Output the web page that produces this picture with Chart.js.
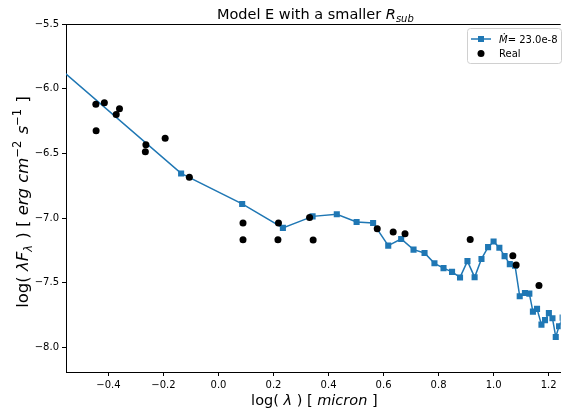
<!DOCTYPE html>
<html>
<head>
<meta charset="utf-8">
<script src="https://cdn.jsdelivr.net/npm/chart.js@4.4.0/dist/chart.umd.min.js"></script>
<style>
html,body{margin:0;padding:0;background:#fff;}
#wrap{width:565px;height:412px;position:relative;}
</style>
</head>
<body>
<div id="wrap"><canvas id="c" width="565" height="412"></canvas></div>
<script>
// ---- data ----
const modelLabel = '23.0e-8';
const modelX = [-0.62, -0.136, 0.086, 0.234, 0.342, 0.430, 0.502, 0.562, 0.617, 0.664, 0.709, 0.749, 0.785, 0.818, 0.849, 0.878, 0.905, 0.931, 0.956, 0.980, 1.000, 1.021, 1.040, 1.059, 1.078, 1.095, 1.114, 1.130, 1.143, 1.158, 1.174, 1.187, 1.201, 1.214, 1.226, 1.238, 1.251];
const modelY = [-5.766, -6.655, -6.891, -7.076, -6.987, -6.971, -7.030, -7.038, -7.213, -7.162, -7.244, -7.270, -7.350, -7.387, -7.416, -7.459, -7.333, -7.457, -7.316, -7.225, -7.181, -7.229, -7.294, -7.356, -7.368, -7.605, -7.579, -7.584, -7.723, -7.702, -7.824, -7.789, -7.735, -7.774, -7.919, -7.837, -7.770];
const realX = [-0.446, -0.445, -0.415, -0.372, -0.360, -0.264, -0.266, -0.194, -0.106, 0.089, 0.089, 0.218, 0.216, 0.331, 0.344, 0.577, 0.635, 0.678, 0.915, 1.070, 1.082, 1.165];
const realY = [-6.121, -6.325, -6.108, -6.199, -6.155, -6.433, -6.487, -6.384, -6.685, -7.038, -7.167, -7.038, -7.167, -6.995, -7.169, -7.082, -7.107, -7.121, -7.165, -7.291, -7.362, -7.522];
const xTicks = [-0.4, -0.2, 0.0, 0.2, 0.4, 0.6, 0.8, 1.0, 1.2];
const yTicks = [-8.0, -7.5, -7.0, -6.5, -6.0, -5.5];
const xRange = [-0.5545, 1.244];
const yRange = [-8.19, -5.5];

const FONT = 'DejaVu Sans';
const BLUE = '#1f77b4';

function fmt(v) {
  const s = Math.abs(v).toFixed(1);
  return (v < -1e-9 ? '\u2212' : '') + s;
}

function fontStr(p) {
  return (p.italic ? 'italic ' : '') + p.size + 'px "' + FONT + '"';
}
function richWidth(ctx, parts) {
  let w = 0;
  parts.forEach(p => { ctx.font = fontStr(p); p.w = ctx.measureText(p.t).width + (p.gap || 0); w += p.w; });
  return w;
}
function drawRich(ctx, parts, x, y, align) {
  const w = richWidth(ctx, parts);
  let cx = align === 'center' ? x - w / 2 : x;
  ctx.textAlign = 'left';
  ctx.textBaseline = 'alphabetic';
  ctx.fillStyle = '#000';
  parts.forEach(p => {
    ctx.font = fontStr(p);
    ctx.fillText(p.t, cx, y + (p.dy || 0));
    cx += p.w;
  });
}

const decor = {
  id: 'decor',
  afterDraw(chart) {
    const ctx = chart.ctx;
    const a = chart.chartArea;
    ctx.save();
    // top spine
    ctx.strokeStyle = '#000';
    ctx.lineWidth = 1;
    ctx.beginPath();
    ctx.moveTo(a.left, a.top + 0.5);
    ctx.lineTo(a.right, a.top + 0.5);
    ctx.stroke();

    const cx = (a.left + a.right) / 2;
    // title
    drawRich(ctx, [
      {t: 'Model E with a smaller ', size: 14.5},
      {t: 'R', size: 14.5, italic: true},
      {t: 'sub', size: 10, italic: true, dy: 3}
    ], cx + 2, 19, 'center');

    // x label
    drawRich(ctx, [
      {t: 'log( ', size: 14.5},
      {t: '\u03bb', size: 14.5, italic: true},
      {t: ' ) [ ', size: 14.5},
      {t: 'micron', size: 14.5, italic: true},
      {t: ' ]', size: 14.5}
    ], cx + 1, 405, 'center');

    // y label
    ctx.save();
    ctx.translate(28, 202);
    ctx.rotate(-Math.PI / 2);
    drawRich(ctx, [
      {t: 'log( ', size: 16.5},
      {t: '\u03bbF', size: 16.5, italic: true},
      {t: '\u03bb', size: 11.5, italic: true, dy: 3.5, gap: 1},
      {t: ' ) [ ', size: 16.5},
      {t: 'erg cm', size: 16.5, italic: true},
      {t: '\u22122', size: 11.5, dy: -7, gap: 1},
      {t: ' s', size: 16.5, italic: true},
      {t: '\u22121', size: 11.5, dy: -7, gap: 1},
      {t: ' ]', size: 16.5}
    ], 0, 0, 'center');
    ctx.restore();

    // legend
    const lx = 467.5, ly = 28.5, lw = 94, lh = 35;
    ctx.beginPath();
    if (ctx.roundRect) ctx.roundRect(lx, ly, lw, lh, 3); else ctx.rect(lx, ly, lw, lh);
    ctx.fillStyle = 'rgba(255,255,255,0.8)';
    ctx.fill();
    ctx.strokeStyle = '#d0d0d0';
    ctx.lineWidth = 1;
    ctx.stroke();

    ctx.strokeStyle = BLUE;
    ctx.lineWidth = 1.5;
    ctx.beginPath();
    ctx.moveTo(471, 39);
    ctx.lineTo(491, 39);
    ctx.stroke();
    ctx.fillStyle = BLUE;
    ctx.fillRect(478, 36, 6, 6);
    drawRich(ctx, [
      {t: '\u1e40', size: 10, italic: true},
      {t: '= ' + modelLabel, size: 10}
    ], 499, 43, 'left');

    ctx.fillStyle = '#000';
    ctx.beginPath();
    ctx.arc(481, 53.5, 3.5, 0, Math.PI * 2);
    ctx.fill();
    drawRich(ctx, [{t: 'Real', size: 10}], 499, 57, 'left');
    ctx.restore();
  }
};

const tickFont = {family: FONT, size: 10};

new Chart(document.getElementById('c'), {
  type: 'scatter',
  data: {
    datasets: [
      {
        label: 'Real',
        data: realX.map((x, i) => ({x: x, y: realY[i]})),
        showLine: false,
        pointStyle: 'circle',
        pointRadius: 3.5,
        pointBackgroundColor: '#000',
        pointBorderWidth: 0,
        order: 0
      },
      {
        label: 'M = ' + modelLabel,
        data: modelX.map((x, i) => ({x: x, y: modelY[i]})),
        showLine: true,
        borderColor: BLUE,
        backgroundColor: BLUE,
        borderWidth: 1.5,
        pointStyle: 'rect',
        pointRadius: 4.3,
        pointBackgroundColor: BLUE,
        pointBorderWidth: 0,
        tension: 0,
        order: 1
      }
    ]
  },
  options: {
    responsive: false,
    animation: false,
    devicePixelRatio: 1,
    layout: {padding: {top: 24, left: 0, right: 0, bottom: 0}},
    plugins: {
      legend: {display: false},
      title: {display: false},
      tooltip: {enabled: false}
    },
    scales: {
      x: {
        type: 'linear',
        min: xRange[0],
        max: xRange[1],
        afterBuildTicks: s => { s.ticks = xTicks.map(v => ({value: v})); },
        afterFit: s => { s.height = 40; s.paddingLeft = 0; s.paddingRight = 0; },
        ticks: {callback: v => fmt(v), color: '#000', font: tickFont, padding: 3, maxRotation: 0, autoSkip: false},
        grid: {drawOnChartArea: false, drawTicks: true, tickLength: 4, color: '#000', lineWidth: 1},
        border: {display: true, color: '#000', width: 1}
      },
      y: {
        type: 'linear',
        min: yRange[0],
        max: yRange[1],
        afterBuildTicks: s => { s.ticks = yTicks.map(v => ({value: v})); },
        afterFit: s => { s.width = 66; s.paddingTop = 0; s.paddingBottom = 0; },
        ticks: {callback: v => fmt(v), color: '#000', font: tickFont, padding: 3, autoSkip: false},
        grid: {drawOnChartArea: false, drawTicks: true, tickLength: 4, color: '#000', lineWidth: 1},
        border: {display: true, color: '#000', width: 1}
      }
    }
  },
  plugins: [decor]
});
</script>
</body>
</html>
